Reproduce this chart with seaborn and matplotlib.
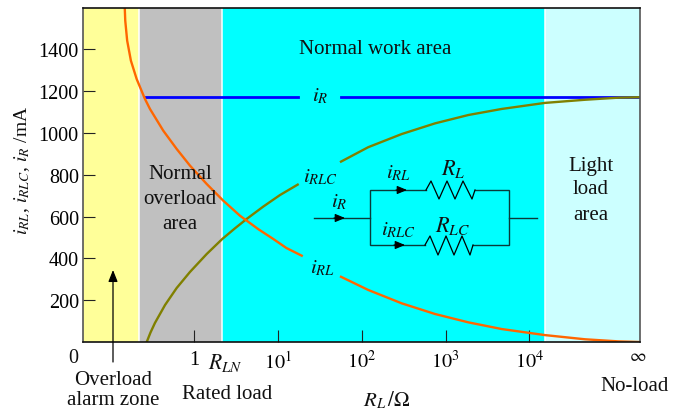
import matplotlib
matplotlib.use('Agg')
import matplotlib.pyplot as plt
import seaborn as sns

# Values (R_L in ohm on a log axis, currents in mA)
rl_left_r = [0.147, 0.149, 0.157, 0.174, 0.204, 0.256, 0.294, 0.424, 0.612, 0.883,
             1.40, 2.21, 3.50, 5.78, 8.73, 12.5, 19.1]
rl_left_i = [1598, 1537, 1442, 1346, 1258, 1163, 1115, 1011, 924, 844,
             756, 676, 604, 540, 493, 450, 413]
rl_right_r = [56.3, 119, 299, 747, 1870, 4680, 15400, 46300, 116000, 210000]
rl_right_i = [312, 249, 185, 134, 94, 62, 33, 13, 3, 0]

rlc_left_r = [0.269, 0.298, 0.337, 0.445, 0.612, 0.883, 1.40, 2.15, 3.05, 4.21, 6.64, 10.5, 17.1]
rlc_left_i = [0, 45, 91, 177, 258, 335, 421, 493, 544, 589, 648, 703, 753]
rlc_right_r = [56.3, 119, 299, 747, 1870, 4680, 15400, 46300, 116000, 210000]
rlc_right_i = [863, 932, 995, 1046, 1086, 1115, 1144, 1159, 1169, 1171]

r_left_r = [0.264, 17.1]
r_left_i = [1171, 1171]
r_right_r = [56.3, 210000]
r_right_i = [1171, 1171]

# Background zones: edges and colours
zone_edges = [0.0466, 0.217, 2.13, 15400, 210000]
zone_colors = ['#ffff99', '#c0c0c0', '#00ffff', '#ccffff']

y_ticks = [200, 400, 600, 800, 1000, 1200, 1400]
x_ticks = [1, 10, 100, 1000, 10000]
x_tick_labels = ['1', '$10^1$', '$10^2$', '$10^3$', '$10^4$']

plt.rcParams['font.family'] = ['Liberation Serif', 'DejaVu Serif']
plt.rcParams['mathtext.fontset'] = 'stix'

fig = plt.figure(figsize=(6.83, 4.10), dpi=100)
W, H = 683.0, 410.0
ax = fig.add_axes([83 / W, 1 - 343 / H, 557 / W, 334 / H])
ax.set_xscale('log')
ax.set_xlim(zone_edges[0], zone_edges[-1])
ax.set_ylim(0, 1598)

for i, color in enumerate(zone_colors):
    ax.axvspan(zone_edges[i], zone_edges[i + 1], color=color, lw=0, zorder=0)
for edge in zone_edges[1:4]:
    ax.axvline(edge, color='white', lw=1.1, zorder=1)

sns.lineplot(x=r_left_r, y=r_left_i, ax=ax, color='#0000ff', lw=2, sort=False, estimator=None)
sns.lineplot(x=r_right_r, y=r_right_i, ax=ax, color='#0000ff', lw=2, sort=False, estimator=None)
sns.lineplot(x=rlc_left_r, y=rlc_left_i, ax=ax, color='#808000', lw=1.7, sort=False, estimator=None)
sns.lineplot(x=rlc_right_r, y=rlc_right_i, ax=ax, color='#808000', lw=1.7, sort=False, estimator=None)
sns.lineplot(x=rl_left_r, y=rl_left_i, ax=ax, color='#ff6600', lw=1.7, sort=False, estimator=None)
sns.lineplot(x=rl_right_r, y=rl_right_i, ax=ax, color='#ff6600', lw=1.7, sort=False, estimator=None)

ax.set_yticks(y_ticks)
ax.set_yticklabels([str(v) for v in y_ticks], fontsize=14.5)
ax.set_xticks(x_ticks)
ax.set_xticklabels(x_tick_labels, fontsize=14.5)
ax.minorticks_off()
ax.tick_params(axis='y', direction='in', length=8.5, width=0.8, pad=3, color='#222222')
ax.tick_params(axis='x', direction='in', length=8.5, width=0.8, pad=6, color='#222222')
for name, spine in ax.spines.items():
    spine.set_linewidth(1.2)
    spine.set_color('#111111' if name in ('top', 'bottom') else '#555555')
    spine.set_zorder(5)

# Overlay in picture pixels for the annotations and the circuit sketch
over = fig.add_axes([0, 0, 1, 1], facecolor='none')
over.set_xlim(0, W)
over.set_ylim(H, 0)
over.axis('off')


def label(x, y, s, size=15, **kw):
    over.text(x, y, s, fontsize=size, ha='center', va='center', color='#111111', **kw)


label(375, 50, 'Normal work area')
for y, s in zip([175, 200, 225], ['Normal', 'overload', 'area']):
    label(180, y, s)
for y, s in zip([167, 190, 216], ['Light', 'load', 'area']):
    label(591, y, s)
label(320, 96, '$i_R$')
label(320, 177, '$i_{RLC}$')
label(322, 268, '$i_{RL}$')
label(73, 359, '0', size=14.5)
label(225, 363, '$R_{LN}$', size=15.5)
label(638, 357, r'$\infty$', size=13)
label(113, 381, 'Overload')
label(113, 401, 'alarm zone')
label(227, 395, 'Rated load')
label(635, 387, 'No-load')
label(387, 400, r'$R_L\,/\Omega$', size=15)
label(22, 170, '$i_{RL}$, $i_{RLC}$, $i_R$ /mA', size=14, rotation=90)

# Overload arrow
over.annotate('', xy=(113, 271), xytext=(113, 363),
              arrowprops=dict(arrowstyle='-|>,head_width=0.28,head_length=0.7', color='black', lw=0.9,
                              shrinkA=0, shrinkB=0))

# Circuit
wire = dict(color='#0a3a3a', lw=1.0, solid_joinstyle='miter')
over.plot([314, 370], [219, 219], **wire)
over.plot([426, 370, 370, 425], [191, 191, 246, 246], **wire)
over.plot([475, 509, 509, 473], [191, 191, 246, 246], **wire)
over.plot([509, 537], [219, 219], **wire)
over.plot([426, 431, 439, 447, 455, 463, 472, 475], [191, 182, 200, 182, 200, 182, 200, 191], color='black', lw=0.9)
over.plot([425, 430, 438, 446, 454, 462, 470, 473], [246, 237, 256, 237, 256, 237, 256, 246], color='black', lw=0.9)
for x0, y0 in [(334, 219), (396, 191), (394, 246)]:
    over.annotate('', xy=(x0 + 11, y0), xytext=(x0, y0),
                  arrowprops=dict(arrowstyle='-|>,head_width=0.25,head_length=0.6', color='black', lw=0.8,
                                  shrinkA=0, shrinkB=0))
label(339, 202, '$i_R$')
label(398, 173, '$i_{RL}$')
label(398, 230, '$i_{RLC}$')
label(453, 169, '$R_L$', size=16)
label(453, 226, '$R_{LC}$', size=16)

fig.savefig('out.png', dpi=100)
